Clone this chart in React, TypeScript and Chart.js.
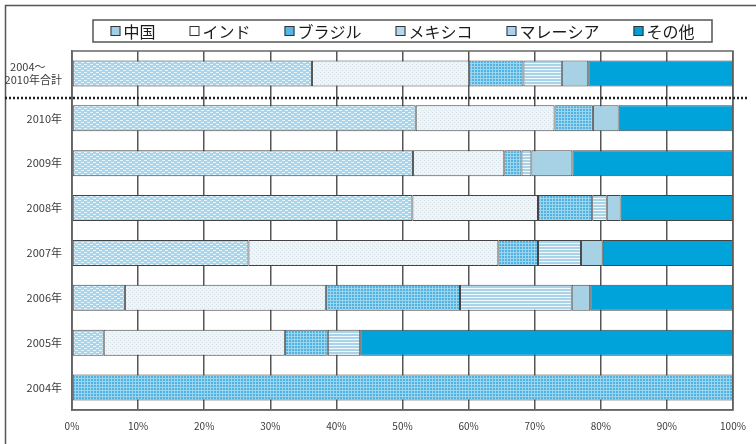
import React, { useEffect, useRef } from "react";
import { Chart, registerables } from "chart.js";
Chart.register(...registerables);

const categories: (string | string[])[] = [
  ["2004～\u3000\u2002", "2010年合計"],
  "2010年",
  "2009年",
  "2008年",
  "2007年",
  "2006年",
  "2005年",
  "2004年",
];
const seriesNames = ["中国", "インド", "ブラジル", "メキシコ", "マレーシア", "その他"];
const china = [36.3, 52.0, 51.6, 51.5, 26.7, 8.0, 4.8, 0];
const india = [23.8, 21.0, 13.8, 19.0, 37.8, 30.4, 27.4, 0];
const brazil = [8.2, 5.8, 2.6, 8.2, 6.0, 20.3, 6.5, 100];
const mexico = [5.8, 0, 1.5, 2.2, 6.5, 16.9, 4.9, 0];
const malaysia = [4.0, 3.9, 6.2, 2.1, 3.3, 2.8, 0, 0];
const others = [21.9, 17.3, 24.3, 17.0, 19.7, 21.6, 56.4, 0];
const xTicks = [0, 10, 20, 30, 40, 50, 60, 70, 80, 90, 100];

const legendColors = ["#9fd0e8", "#ffffff", "#58b4e0", "#b3d8ea", "#a9d3e8", "#009fd6"];
const FONT = "'Noto Sans CJK JP', 'Noto Sans', sans-serif";

function makePattern(
  ctx: CanvasRenderingContext2D,
  w: number,
  h: number,
  draw: (c: CanvasRenderingContext2D) => void
) {
  const c = document.createElement("canvas");
  c.width = w;
  c.height = h;
  const x = c.getContext("2d")!;
  draw(x);
  return ctx.createPattern(c, "repeat")!;
}

export default function App() {
  const ref = useRef<HTMLCanvasElement>(null);
  useEffect(() => {
    const canvas = ref.current!;
    const ctx = canvas.getContext("2d")!;
    const pChina = makePattern(ctx, 6, 4, (c) => {
      c.fillStyle = "#a6d6ec";
      c.fillRect(0, 0, 6, 4);
      c.fillStyle = "rgba(255,255,255,0.75)";
      c.fillRect(0, 0, 3, 1);
      c.fillRect(3, 2, 3, 1);
    });
    const pIndia = makePattern(ctx, 4, 4, (c) => {
      c.fillStyle = "#f1f4f6";
      c.fillRect(0, 0, 4, 4);
      c.fillStyle = "#d3e0e8";
      c.fillRect(0, 0, 1, 1);
      c.fillRect(2, 2, 1, 1);
    });
    const pBrazil = makePattern(ctx, 3, 3, (c) => {
      c.fillStyle = "#4fb2e0";
      c.fillRect(0, 0, 3, 3);
      c.fillStyle = "rgba(255,255,255,0.45)";
      c.fillRect(0, 0, 3, 1);
      c.fillRect(0, 1, 1, 2);
    });
    const pMexico = makePattern(ctx, 2, 3, (c) => {
      c.fillStyle = "#a8d3e9";
      c.fillRect(0, 0, 2, 3);
      c.fillStyle = "rgba(255,255,255,0.85)";
      c.fillRect(0, 0, 2, 1);
    });
    const fills = [pChina, pIndia, pBrazil, pMexico, "#a7d2e6", "#00a3da"];
    const values = [china, india, brazil, mexico, malaysia, others];

    const framePlugin = {
      id: "frame",
      beforeDraw(chart: any) {
        const c = chart.ctx;
        c.save();
        c.fillStyle = "#ffffff";
        c.fillRect(0, 0, chart.width, chart.height);
        c.strokeStyle = "#555";
        c.lineWidth = 1.5;
        c.strokeRect(5.5, 5.5, chart.width + 20, chart.height + 20);
        c.restore();
      },
      afterDatasetsDraw(chart: any) {
        const c = chart.ctx;
        const a = chart.chartArea;
        const y = chart.scales.y;
        c.save();
        c.strokeStyle = "#666";
        c.lineWidth = 1.5;
        c.strokeRect(a.left, a.top, a.right - a.left, a.bottom - a.top);
        const yy = (y.getPixelForValue(0) + y.getPixelForValue(1)) / 2 + 2;
        c.strokeStyle = "#222";
        c.lineWidth = 2.5;
        c.setLineDash([2, 2]);
        c.beginPath();
        c.moveTo(5, yy);
        c.lineTo(748, yy);
        c.stroke();
        c.setLineDash([]);
        c.font = `16px ${FONT}`;
        c.textBaseline = "middle";
        const box = 10;
        const gapBoxText = 3;
        const gap = 34;
        const widths = seriesNames.map((n) => box + gapBoxText + c.measureText(n).width);
        const total = widths.reduce((s, w) => s + w, 0) + gap * (seriesNames.length - 1);
        const center = (a.left + a.right) / 2;
        const lx0 = 93, lx1 = 712, ly0 = 20, ly1 = 42;
        c.strokeStyle = "#555";
        c.lineWidth = 1.5;
        c.strokeRect(lx0, ly0, lx1 - lx0, ly1 - ly0);
        let x = center - total / 2;
        const cy = (ly0 + ly1) / 2;
        seriesNames.forEach((n, i) => {
          c.fillStyle = legendColors[i];
          c.fillRect(x, cy - box / 2, box, box);
          c.strokeStyle = "#333";
          c.lineWidth = 1;
          c.strokeRect(x + 0.5, cy - box / 2 + 0.5, box - 1, box - 1);
          c.fillStyle = "#1a1a1a";
          c.fillText(n, x + box + gapBoxText, cy + 1);
          x += widths[i] + gap;
        });
        c.restore();
      },
    };

    const chart = new Chart(canvas, {
      type: "bar",
      data: {
        labels: categories as any,
        datasets: seriesNames.map((n, i) => ({
          label: n,
          data: values[i],
          backgroundColor: fills[i] as any,
          borderColor: "#444",
          borderWidth: 1,
          borderSkipped: false,
          categoryPercentage: 1,
          barPercentage: 0.58,
        })),
      },
      options: {
        indexAxis: "y",
        animation: false,
        responsive: false,
        layout: { padding: { left: 0, right: 23, top: 51, bottom: 0 } },
        plugins: { legend: { display: false }, tooltip: { enabled: false } },
        scales: {
          x: {
            stacked: true,
            min: 0,
            max: 100,
            afterBuildTicks: (s: any) => {
              s.ticks = xTicks.map((v) => ({ value: v }));
            },
            afterFit: (s: any) => {
              s.height = 34;
            },
            ticks: {
              callback: (v: any) => v + "%",
              color: "#3a3a3a",
              font: { family: FONT, size: 10 },
              padding: 10,
              maxRotation: 0,
            },
            grid: { color: "#555", lineWidth: 1.5, drawTicks: false },
            border: { display: true, color: "#666", width: 1.5 },
          },
          y: {
            stacked: true,
            afterFit: (s: any) => {
              s.width = 72;
            },
            ticks: {
              color: "#3a3a3a",
              font: { family: FONT, size: 11 },
              padding: 10,
            },
            grid: { display: false, drawTicks: false },
            border: { display: true, color: "#666", width: 1.5 },
          },
        },
      },
      plugins: [framePlugin],
    });
    return () => chart.destroy();
  }, []);
  return (
    <div style={{ position: "absolute", left: 0, top: 0, width: 756, height: 444 }}>
      <canvas ref={ref} width={756} height={444} style={{ display: "block" }} />
    </div>
  );
}
